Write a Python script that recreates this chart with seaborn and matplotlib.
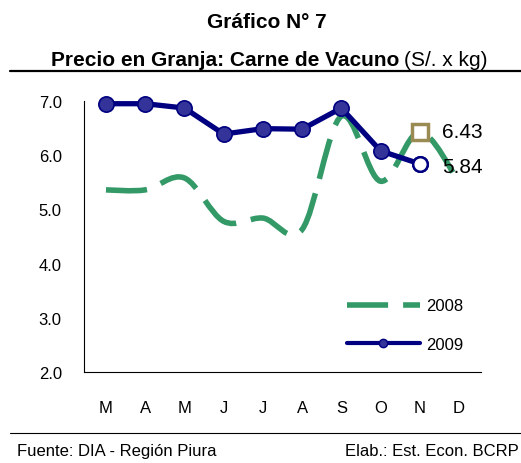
import numpy as np
import pandas as pd
import matplotlib
matplotlib.use("Agg")
import matplotlib.pyplot as plt
from matplotlib.path import Path
from matplotlib.patches import PathPatch
from matplotlib.lines import Line2D
import seaborn as sns

# monthly farm-gate beef price, S/. per kg (Mar..Dec)
MONTHS = ["M", "A", "M", "J", "J", "A", "S", "O", "N", "D"]
PRICE_2008 = [5.36, 5.36, 5.58, 4.78, 4.84, 4.63, 6.72, 5.52, 6.43, 5.50]
PRICE_2009 = [6.95, 6.95, 6.87, 6.39, 6.49, 6.48, 6.87, 6.08, 5.84]
YTICKS = [2.0, 3.0, 4.0, 5.0, 6.0, 7.0]
SERIES_NAMES = ["2008", "2009"]

GREEN = "#339966"
NAVY = "#000080"
MARKER_FILL = "#333399"
SQUARE_EDGE = "#9a8b55"

W, H = 521, 464


def smooth_path(x, y):
    """Excel-like smoothed line: Catmull-Rom segments as cubic Beziers."""
    pts = np.column_stack([x, y]).astype(float)
    ext = np.vstack([pts[0], pts, pts[-1]])
    verts = [pts[0]]
    codes = [Path.MOVETO]
    for i in range(len(pts) - 1):
        p0, p1, p2, p3 = ext[i], ext[i + 1], ext[i + 2], ext[i + 3]
        verts += [p1 + (p2 - p0) / 6, p2 - (p3 - p1) / 6, p2]
        codes += [Path.CURVE4] * 3
    return Path(verts, codes)


sns.set_style("white")
plt.rcParams["font.family"] = ["Liberation Sans", "DejaVu Sans"]
plt.rcParams.update({"text.color": "black", "xtick.color": "black",
                     "ytick.color": "black", "axes.labelcolor": "black"})

fig = plt.figure(figsize=(W / 100, H / 100), dpi=100)
ax = fig.add_axes([84 / W, 1 - 373 / H, (481 - 84) / W, (373 - 102) / H])

dash_08 = (0, (7.4, 2.7))

# 2008: smoothed dashed line
x08 = np.arange(len(PRICE_2008))
ax.add_patch(PathPatch(smooth_path(x08, PRICE_2008), fill=False,
                       edgecolor=GREEN, lw=4, linestyle=dash_08,
                       capstyle="butt", zorder=2))
ax.plot(x08[8], PRICE_2008[8], "s", mfc="white", mec=SQUARE_EDGE,
        ms=12, mew=2.5, zorder=3)

# 2009: line with circle markers, last month hollow
df09 = pd.DataFrame({"mes": np.arange(len(PRICE_2009)), "precio": PRICE_2009})
sns.lineplot(data=df09, x="mes", y="precio", ax=ax, color=NAVY, lw=3.8,
             marker="o", markersize=11, markerfacecolor=MARKER_FILL,
             markeredgecolor=NAVY, markeredgewidth=1.2, zorder=4, clip_on=False)
ax.plot(df09["mes"].iloc[-1], df09["precio"].iloc[-1], "o", mfc="white",
        mec=NAVY, ms=10.5, mew=1.8, zorder=5)

ax.annotate(f"{PRICE_2008[8]:.2f}", xy=(8, PRICE_2008[8]), xytext=(16, 0),
            textcoords="offset points", va="center", fontsize=15)
ax.annotate(f"{PRICE_2009[-1]:.2f}", xy=(8, PRICE_2009[-1]), xytext=(16, -2),
            textcoords="offset points", va="center", fontsize=15)

ax.set_xlim(-0.56, len(MONTHS) - 1 + 0.56)
ax.set_ylim(YTICKS[0], YTICKS[-1])
ax.set_xticks(range(len(MONTHS)))
ax.set_xticklabels(MONTHS)
ax.set_yticks(YTICKS)
ax.set_yticklabels([f"{v:.1f}" for v in YTICKS])
ax.tick_params(axis="both", length=0, labelsize=12)
ax.tick_params(axis="y", pad=16)
ax.tick_params(axis="x", pad=20)
ax.set_xlabel("")
ax.set_ylabel("")
sns.despine(ax=ax)
for s in ("left", "bottom"):
    ax.spines[s].set_color("black")
    ax.spines[s].set_linewidth(0.8)

handles = [
    Line2D([], [], color=GREEN, lw=4, ls=dash_08),
    Line2D([], [], color=NAVY, lw=3, marker="o", ms=6, mfc=MARKER_FILL, mec=NAVY),
]
ax.legend(handles, SERIES_NAMES, loc="center left", bbox_to_anchor=(0.662, 0.173),
          frameon=False, fontsize=12, handlelength=4.4, handletextpad=0.36,
          labelspacing=1.4, borderpad=0, borderaxespad=0)

# titles
fig.text(267 / W, 1 - 23 / H, "Gráfico N° 7", ha="center", va="center",
         fontsize=15, fontweight="bold")
fig.text(399 / W, 1 - 60 / H, "Precio en Granja: Carne de Vacuno", ha="right",
         va="center", fontsize=15, fontweight="bold")
fig.text(404 / W, 1 - 60 / H, "(S/. x kg)", ha="left", va="center", fontsize=15)
fig.add_artist(Line2D([10 / W, 1], [1 - 72 / H] * 2, color="black", lw=1.6))

# footer
fig.add_artist(Line2D([10 / W, 1], [1 - 434 / H] * 2, color="black", lw=0.8))
fig.text(17 / W, 1 - 452 / H, "Fuente: DIA - Región Piura", ha="left",
         va="center", fontsize=12)
fig.text(519 / W, 1 - 452 / H, "Elab.: Est. Econ. BCRP", ha="right",
         va="center", fontsize=12)

fig.savefig("out.png", dpi=100)
plt.close(fig)
